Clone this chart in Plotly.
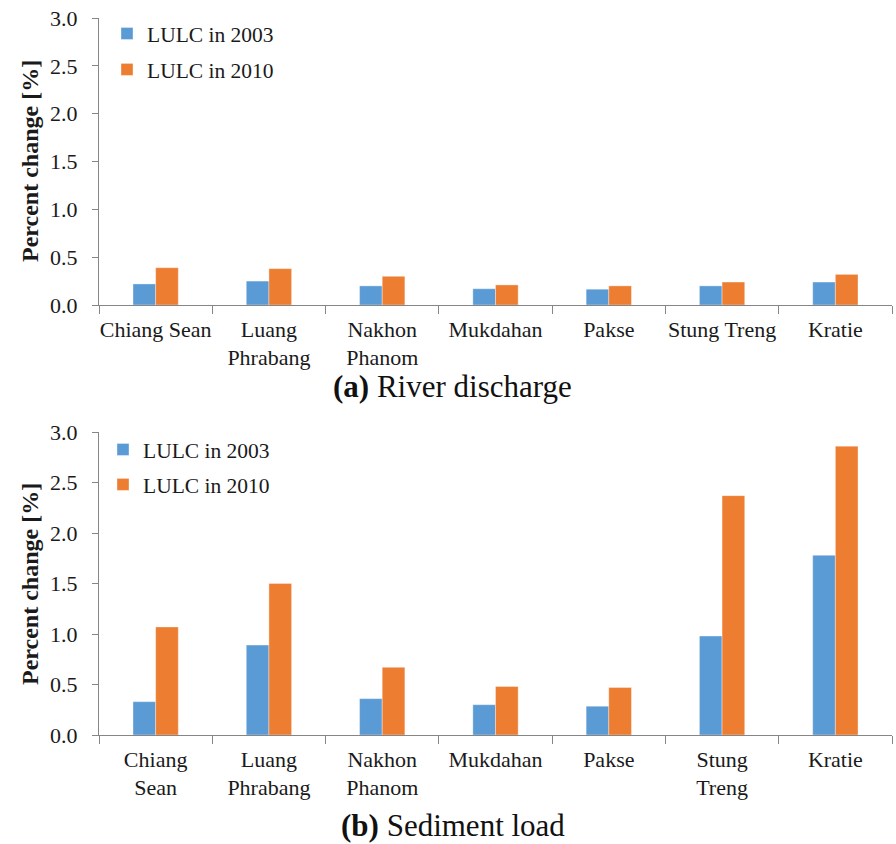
import plotly.graph_objects as go

stations = ["Chiang Sean", "Luang Phrabang", "Nakhon Phanom", "Mukdahan", "Pakse", "Stung Treng", "Kratie"]
labels_a = ["Chiang Sean", "Luang<br>Phrabang", "Nakhon<br>Phanom", "Mukdahan", "Pakse", "Stung Treng", "Kratie"]
labels_b = ["Chiang<br>Sean", "Luang<br>Phrabang", "Nakhon<br>Phanom", "Mukdahan", "Pakse", "Stung<br>Treng", "Kratie"]

discharge_2003 = [0.22, 0.25, 0.20, 0.17, 0.165, 0.20, 0.24]
discharge_2010 = [0.39, 0.38, 0.30, 0.21, 0.20, 0.24, 0.32]
sediment_2003 = [0.33, 0.89, 0.36, 0.30, 0.285, 0.98, 1.78]
sediment_2010 = [1.07, 1.50, 0.67, 0.48, 0.47, 2.37, 2.86]

y_ticks = [0.0, 0.5, 1.0, 1.5, 2.0, 2.5, 3.0]

BLUE = "#5B9BD5"
ORANGE = "#ED7D31"
FONT = "Liberation Serif"
TXT = "#1a1a1a"
W, H = 896, 844

fig = go.Figure()
edge = dict(color="rgba(255,255,255,0.6)", width=0.6)
fig.add_trace(go.Bar(x=stations, y=discharge_2003, name="LULC in 2003", marker=dict(color=BLUE, line=edge),
                     xaxis="x", yaxis="y", legend="legend", legendgroup="a1"))
fig.add_trace(go.Bar(x=stations, y=discharge_2010, name="LULC in 2010", marker=dict(color=ORANGE, line=edge),
                     xaxis="x", yaxis="y", legend="legend", legendgroup="a2"))
fig.add_trace(go.Bar(x=stations, y=sediment_2003, name="LULC in 2003", marker=dict(color=BLUE, line=edge),
                     xaxis="x2", yaxis="y2", legend="legend2", legendgroup="b1"))
fig.add_trace(go.Bar(x=stations, y=sediment_2010, name="LULC in 2010", marker=dict(color=ORANGE, line=edge),
                     xaxis="x2", yaxis="y2", legend="legend2", legendgroup="b2"))

xdom = [99 / W, 892 / W]
ydom_a = [(H - 305) / H, (H - 18) / H]
ydom_b = [(H - 735) / H, (H - 432) / H]

line_common = dict(showline=True, linecolor="#868686", linewidth=1.2, ticks="outside",
                   tickcolor="#868686", tickwidth=1.2, showgrid=False, zeroline=False,
                   automargin=False)
x_common = dict(type="category", tickson="boundaries", tickmode="array", tickvals=stations,
                tickangle=0, ticklen=8, ticklabelstandoff=4,
                tickfont=dict(family=FONT, size=22, color=TXT), **line_common)
y_common = dict(range=[0, 3.0], tickvals=y_ticks, tickformat=".1f", ticklen=6, ticklabelstandoff=10,
                tickfont=dict(family=FONT, size=22, color=TXT), **line_common)

fig.update_layout(
    width=W, height=H,
    margin=dict(l=0, r=0, t=0, b=0, autoexpand=False),
    paper_bgcolor="white", plot_bgcolor="white",
    barmode="group", bargap=0.6, bargroupgap=0.0,
    font=dict(family=FONT, color=TXT),
    xaxis=dict(domain=xdom, anchor="y", ticktext=labels_a, **x_common),
    yaxis=dict(domain=ydom_a, anchor="x", **y_common),
    xaxis2=dict(domain=xdom, anchor="y2", ticktext=labels_b, **x_common),
    yaxis2=dict(domain=ydom_b, anchor="x2", **y_common),
    legend=dict(x=107 / W, y=(H - 13) / H, xanchor="left", yanchor="top", bgcolor="rgba(0,0,0,0)",
                font=dict(family=FONT, size=21.5, color=TXT), traceorder="grouped", tracegroupgap=5,
                itemwidth=30),
    legend2=dict(x=103 / W, y=(H - 429) / H, xanchor="left", yanchor="top", bgcolor="rgba(0,0,0,0)",
                 font=dict(family=FONT, size=21.5, color=TXT), traceorder="grouped", tracegroupgap=4,
                 itemwidth=30),
)

annotations = [
    dict(text="<b>Percent change [%]</b>", x=30 / W, y=(H - 161) / H, textangle=-90,
         font=dict(family=FONT, size=24, color=TXT)),
    dict(text="<b>Percent change [%]</b>", x=30 / W, y=(H - 584) / H, textangle=-90,
         font=dict(family=FONT, size=24, color=TXT)),
    dict(text="<b>(a)</b> River discharge", x=452 / W, y=(H - 386) / H,
         font=dict(family=FONT, size=31, color="#111111")),
    dict(text="<b>(b)</b> Sediment load", x=453 / W, y=(H - 825) / H,
         font=dict(family=FONT, size=31, color="#111111")),
]
for a in annotations:
    a.update(xref="paper", yref="paper", showarrow=False, xanchor="center", yanchor="middle")
fig.update_layout(annotations=annotations)

fig.write_html("out.html", config={"displayModeBar": False},
               post_script="document.body.style.margin='0px';")
